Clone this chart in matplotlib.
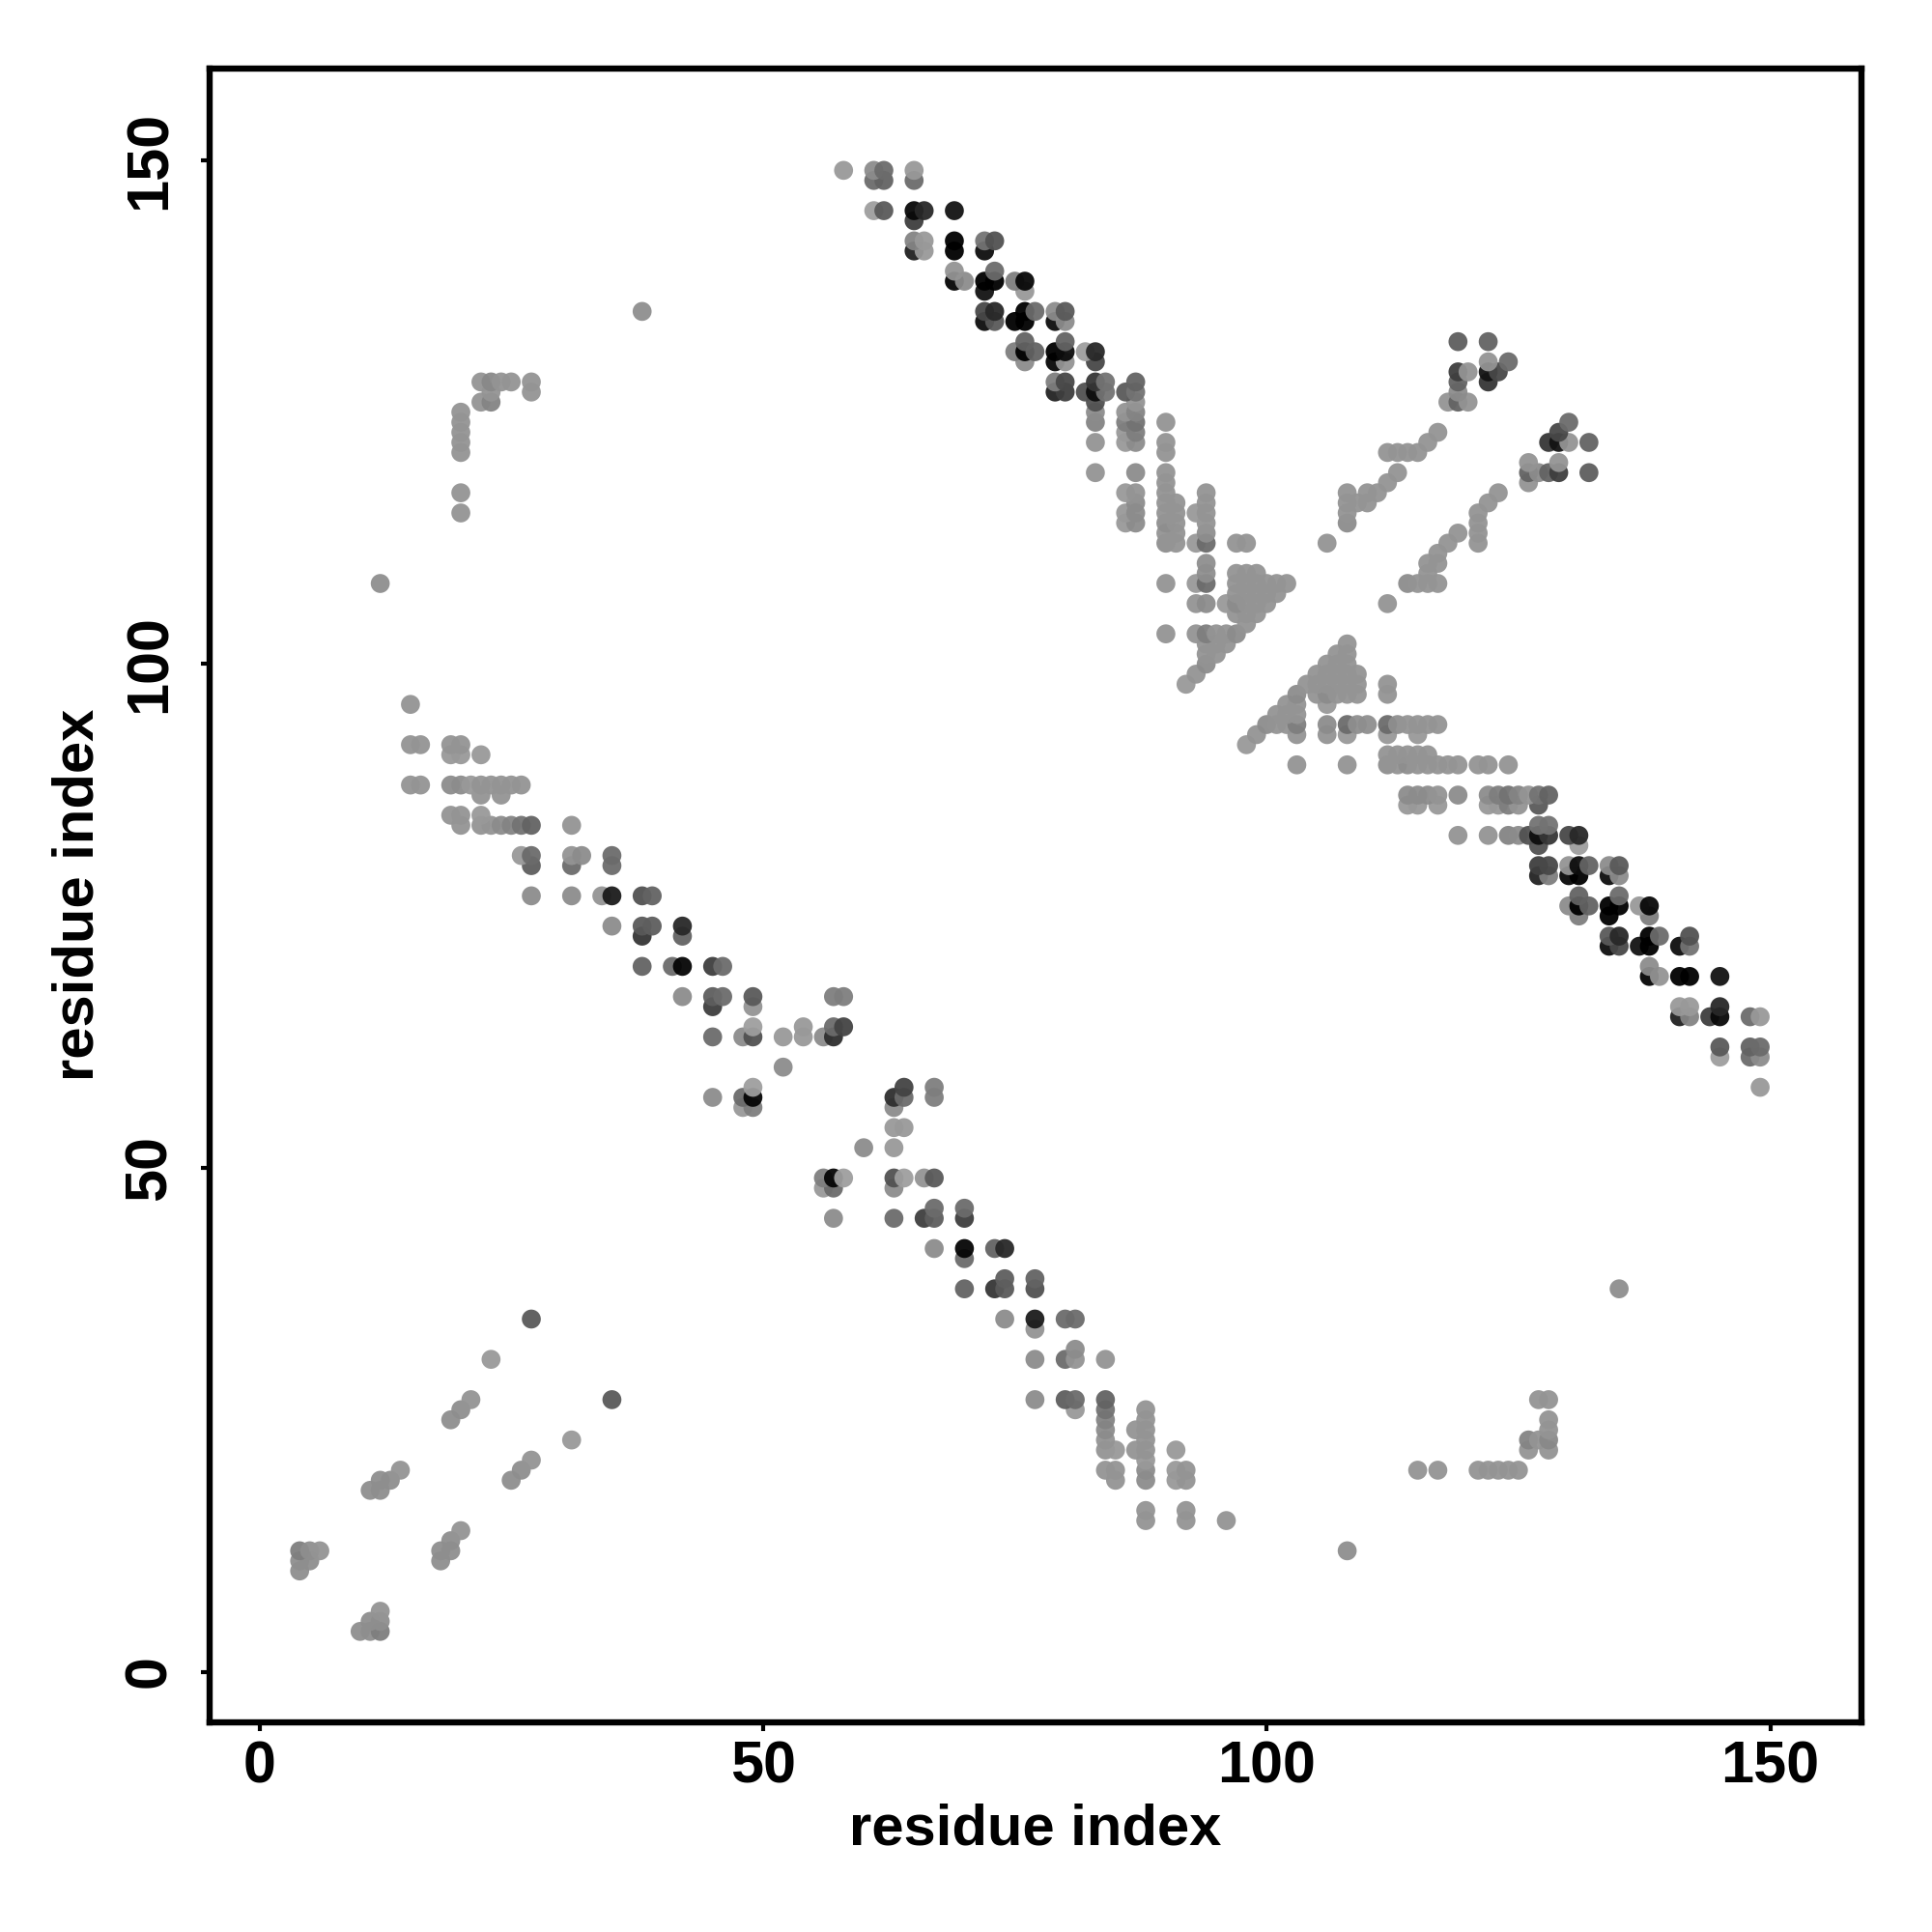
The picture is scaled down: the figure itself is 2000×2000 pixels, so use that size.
from matplotlib import pyplot as plt
import numpy as np

plt.rcParams['font.family'] = ['Liberation Sans', 'DejaVu Sans']
plt.rcParams['font.weight'] = 'bold'

################# contacts above the diagonal, one entry per row #################
row_j = [149, 148, 145, 144, 142, 141, 139, 138, 137, 135, 134, 132, 131, 130, 129, 128, 127, 126, 125,
         124, 123, 122, 121, 119, 118, 117, 116, 115, 114, 113, 112, 110, 109, 108, 107, 106, 105, 104, 103,
         102, 101, 100, 99, 98, 96, 92, 91, 88, 87, 85, 84, 81, 80, 77, 74, 73, 70, 67, 66,
         64, 63, 60, 58, 57, 56, 35, 31, 27, 26, 25, 20, 19, 18, 12, 11, 10]

row_i = [[58, 61, 62, 65],
         [61, 62, 65],
         [61, 62, 65, 66, 69],
         [65],
         [65, 66, 69, 72, 73],
         [65, 66, 69, 72],
         [69, 73],
         [69, 70, 72, 73, 75, 76],
         [72, 76],
         [38, 72, 73, 76, 77, 79, 80],
         [72, 73, 75, 76, 79, 80],
         [76, 80, 119, 122],
         [75, 76, 77, 79, 80, 82, 83],
         [76, 79, 80, 83, 122, 124],
         [119, 120, 122, 123],
         [22, 23, 24, 25, 27, 79, 80, 83, 84, 87, 119, 122],
         [23, 27, 79, 80, 82, 83, 84, 86, 87, 119],
         [22, 23, 83, 87, 118, 119, 120],
         [20, 83, 86, 87],
         [20, 83, 86, 87, 90],
         [20, 86, 87, 117],
         [20, 83, 86, 87, 90, 116],
         [20, 90, 112, 113, 114, 115],
         [83, 87, 90, 113],
         [90, 112],
         [20, 86, 87, 90, 94, 108, 110, 111],
         [87, 90, 91, 94, 108, 109, 110],
         [20, 86, 87, 90, 91, 93, 94, 108],
         [86, 87, 90, 91, 94, 108],
         [90, 91, 94],
         [90, 91, 93, 94, 97, 98, 106],
         [94],
         [94, 97, 98, 99],
         [12, 90, 93, 94, 97, 98, 99, 100, 101, 102],
         [97, 98, 99, 100, 101],
         [93, 94, 96, 97, 98, 99, 100],
         [97, 98, 99],
         [98],
         [90, 93, 94, 95, 96, 97],
         [94, 95, 96],
         [94, 95],
         [94],
         [93],
         [92],
         [15],
         [15, 16, 19, 20],
         [19, 20, 22],
         [15, 16, 19, 20, 21, 22, 23, 24, 25, 26],
         [22, 24],
         [19, 20, 22],
         [20, 22, 23, 24, 25, 26, 27, 31],
         [26, 27, 31, 32, 35],
         [27, 31, 35],
         [27, 31, 34, 35, 38, 39],
         [35, 38, 39, 42],
         [38, 42],
         [38, 41, 42, 45, 46],
         [42, 45, 46, 49, 57, 58],
         [45, 49],
         [49, 54, 57, 58],
         [45, 48, 49, 52, 54, 56, 57],
         [52],
         [49],
         [45, 48, 49],
         [48, 49],
         [27],
         [23],
         [21],
         [20],
         [19],
         [14],
         [12, 13],
         [11, 12],
         [4, 5, 6],
         [4, 5],
         [4]]

row_g = [[.6, .55, .45, .6],
         [.45, .42, .45],
         [.62, .38, .08, .2, .12],
         [.28],
         [.52, .6, .0, .48, .35],
         [.17, .6, .0, .1],
         [.58, .45],
         [.07, .55, .0, .05, .5, .08],
         [.12, .6],
         [.56, .32, .2, .0, .45, .55, .38],
         [.1, .38, .05, .03, .1, .55],
         [.42, .42, .4, .42],
         [.5, .05, .42, .0, .1, .62, .2],
         [.55, .08, .58, .32, .58, .45],
         [.28, .58, .12, .32],
         [.58, .54, .58, .58, .58, .5, .32, .25, .48, .42, .42, .25],
         [.58, .58, .18, .28, .35, .1, .48, .38, .48, .55],
         [.58, .52, .35, .58, .58, .42, .58],
         [.58, .55, .58, .52],
         [.58, .52, .5, .48, .58],
         [.58, .6, .5, .58],
         [.58, .58, .6, .55, .58, .58],
         [.58, .58, .58, .58, .58, .58],
         [.58, .55, .58, .58],
         [.58, .58],
         [.58, .6, .58, .58, .58, .58, .58, .58],
         [.55, .58, .58, .58, .58, .58, .58],
         [.58, .6, .55, .58, .58, .6, .58, .58],
         [.6, .55, .56, .58, .58, .55],
         [.58, .58, .56],
         [.56, .58, .6, .45, .58, .58, .58],
         [.56],
         [.56, .58, .58, .58],
         [.56, .58, .6, .45, .58, .58, .58, .58, .58, .58],
         [.58, .58, .58, .58, .58],
         [.58, .55, .6, .55, .58, .58, .58],
         [.58, .58, .58],
         [.58],
         [.58, .58, .5, .58, .58, .55],
         [.58, .58, .58],
         [.58, .58],
         [.55],
         [.58],
         [.6],
         [.58],
         [.58, .58, .58, .58],
         [.6, .6, .6],
         [.58, .58, .55, .55, .6, .58, .58, .58, .58, .58],
         [.58, .58],
         [.58, .58, .6],
         [.58, .58, .58, .55, .52, .48, .42, .58],
         [.6, .45, .58, .55, .45],
         [.4, .45, .45],
         [.55, .55, .58, .15, .35, .42],
         [.55, .38, .4, .2],
         [.25, .42],
         [.42, .45, .07, .28, .45],
         [.55, .4, .45, .38, .5, .5],
         [.28, .58],
         [.62, .6, .45, .3],
         [.45, .55, .35, .6, .6, .55, .22],
         [.55],
         [.62],
         [.55, .45, .07],
         [.6, .5],
         [.38],
         [.6],
         [.58],
         [.56],
         [.56],
         [.58],
         [.56, .56],
         [.56, .56],
         [.5, .56, .58],
         [.56, .56],
         [.56]]

tick_values = [0, 50, 100, 150]
##################################################################################

alpha = 0.95
xs, ys, gs = [], [], []
for j, ii, gg in zip(row_j, row_i, row_g):
    for i, g in zip(ii, gg):
        # the map is symmetric, every contact shows up on both sides of the diagonal
        xs += [i, j]
        ys += [j, i]
        gs += [g, g]
xs = np.array(xs)
ys = np.array(ys)
gs = np.array(gs)
gs = np.where(gs >= .5, gs + .02, gs)
order = np.lexsort((xs, ys))
cols = np.clip((gs - (1 - alpha)) / alpha, 0, 1)

fig = plt.figure(figsize=(10, 10), dpi=200)
ax = fig.add_axes([217 / 2000, 1 - 1782.5 / 2000, (1927 - 217) / 2000, (1782.5 - 71) / 2000])
ax.scatter(xs[order], ys[order], s=50, c=[(c, c, c) for c in cols[order]], alpha=alpha, linewidths=0)

ax.set_xlim(-4.94, 159.06)
ax.set_ylim(-4.98, 159.1)
ax.set_xticks(tick_values)
ax.set_yticks(tick_values)
ax.tick_params(length=3.2, width=1.5, labelsize=22, pad=8.5)
ax.tick_params(axis='x', pad=3.5)
for lab in ax.get_yticklabels():
    lab.set_rotation(90)
    lab.set_va('center')
for s in ax.spines.values():
    s.set_linewidth(2.3)

ax.set_xlabel("residue index", fontsize=21.5, fontweight='bold', labelpad=3)
ax.set_ylabel("residue index", fontsize=21.5, fontweight='bold', labelpad=7)

fig.savefig("out.png", dpi=200)
